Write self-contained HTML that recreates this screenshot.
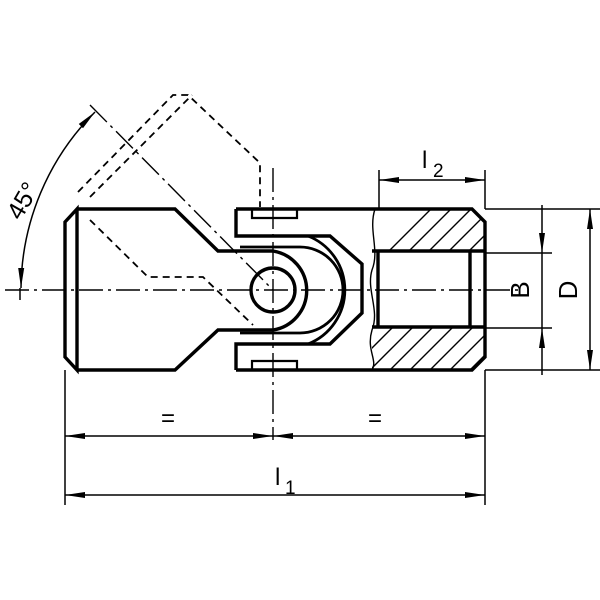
<!DOCTYPE html>
<html><head><style>body{margin:0;background:#fff}svg{display:block}</style></head>
<body>
<svg width="600" height="600" viewBox="0 0 600 600" xmlns="http://www.w3.org/2000/svg" font-family="Liberation Sans, sans-serif">
<defs>
<marker id="a" viewBox="0 0 20 6" refX="20" refY="3" markerWidth="20" markerHeight="7" orient="auto-start-reverse" markerUnits="userSpaceOnUse"><path d="M0,0 L20,3 L0,6 Z" fill="#000"/></marker>
<clipPath id="hc"><path d="M372,209 H472 L485,222 V251 H372 Z M372,327 H485 V357 L472,370 H372 Z"/></clipPath>
</defs>
<g fill="none" stroke="#000">
<g clip-path="url(#hc)" stroke-width="1.4">
<path d="M340,400 L540,200 M360,400 L560,200 M380,400 L580,200 M320,400 L520,200 M300,400 L500,200 M280,400 L480,200 M400,400 L600,200 M420,400 L620,200 M260,400 L460,200 M240,400 L440,200 M440,400 L640,200"/>
</g>
<g stroke-width="3.4" stroke-linejoin="miter">
<path d="M77,209 H175 L218,251 H273 A40,40 0 0 1 273,330 H218 L175,370 H77"/>
<path d="M77,209 L65,222 V357 L77,370 Z"/>
<circle cx="273" cy="290" r="22"/>
<path d="M236,209 V236 H330 L362,264 V313 L330,344 H236 V370"/>
<path d="M236,209 H472 L485,222 V357 L472,370 H236"/>
<path d="M240,247 H300 A43,43 0 0 1 300,333 H240" stroke-width="2.8"/>
<path d="M308,236 A58,58 0 0 1 308,344" stroke-width="2.8"/>
<path d="M252,209 V218 H297 V209 M252,370 V361 H297 V370" stroke-width="2.2"/>
<path d="M372,251 H485 M372,327 H485 M378,251 V327 M470,251 V327"/>
</g>
<path d="M375,209 C368,230 380,250 372,270 C366,290 380,310 372,330 C366,350 378,360 372,370" stroke-width="1.4"/>
<path d="M5,290 H520" stroke-width="1.4" stroke-dasharray="24,5,3,5"/>
<path d="M273,168 V440" stroke-width="1.4" stroke-dasharray="24,5,3,5"/>
<path d="M90,105 L273,290" stroke-width="1.4" stroke-dasharray="24,5,3,5"/>
<g stroke-width="1.8" stroke-dasharray="7,5">
<path d="M78,192 L173,95 H188 L260,163 V207"/>
<path d="M90,197 L192,95"/>
<path d="M90,220 L148,277 H203 L253,325"/>
</g>
<g stroke-width="1.5">
<path d="M379,170 V209 M485,170 V209 M485,370 V505 M65,370 V505"/>
<path d="M485,209 H600 M485,370 H600 M485,253 H552 M485,328 H552"/>
<path d="M379,180 H485" marker-start="url(#a)" marker-end="url(#a)"/>
<path d="M590,209 V370" marker-start="url(#a)" marker-end="url(#a)"/>
<path d="M542,205 V253" marker-end="url(#a)"/>
<path d="M542,375 V328" marker-end="url(#a)"/>
<path d="M542,253 V328"/>
<path d="M65,436 H273" marker-start="url(#a)" marker-end="url(#a)"/>
<path d="M273,436 H485" marker-start="url(#a)" marker-end="url(#a)"/>
<path d="M65,495 H485" marker-start="url(#a)" marker-end="url(#a)"/>
<path d="M95,112 A252,252 0 0 0 21,288" marker-start="url(#a)" marker-end="url(#a)"/>
<path d="M20,288 V300"/>
</g>
</g>
<g font-size="24" fill="#000">
<text x="422" y="168">l</text><text x="433" y="177" font-size="19">2</text>
<text x="275" y="485">l</text><text x="285" y="494" font-size="19">1</text>
<text x="161" y="426">=</text>
<text x="368" y="426">=</text>
<text transform="translate(529,290) rotate(-90)" text-anchor="middle" font-size="26">B</text>
<text transform="translate(577,290) rotate(-90)" text-anchor="middle" font-size="26">D</text>
<text transform="translate(30,205) rotate(-60)" text-anchor="middle" font-size="25">45°</text>
</g>
</svg>
</body></html>
